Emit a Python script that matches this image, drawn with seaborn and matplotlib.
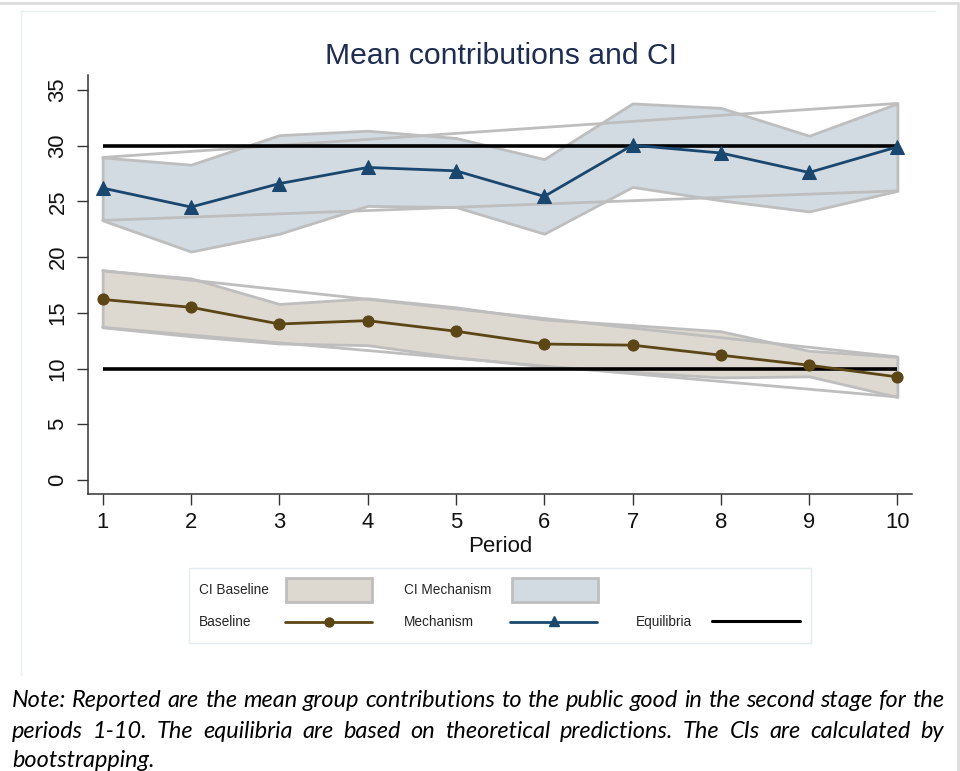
import numpy as np
import pandas as pd
import matplotlib
matplotlib.use("Agg")
import matplotlib.pyplot as plt
import seaborn as sns
from matplotlib.patches import Rectangle
from matplotlib.lines import Line2D

# ---------------- data ----------------
periods = [1, 2, 3, 4, 5, 6, 7, 8, 9, 10]
baseline_mean = [16.2, 15.5, 14.0, 14.3, 13.35, 12.2, 12.1, 11.2, 10.3, 9.25]
baseline_hi = [18.8, 18.1, 15.8, 16.3, 15.5, 14.4, 13.9, 13.35, 11.6, 11.05]
baseline_lo = [13.7, 12.9, 12.25, 12.1, 11.0, 10.2, 9.7, 9.2, 9.3, 7.45]
mechanism_mean = [26.2, 24.5, 26.6, 28.05, 27.75, 25.45, 30.05, 29.35, 27.6, 29.9]
mechanism_hi = [28.95, 28.3, 30.95, 31.35, 30.7, 28.8, 33.8, 33.4, 30.9, 33.8]
mechanism_lo = [23.3, 20.5, 22.1, 24.6, 24.5, 22.1, 26.3, 25.1, 24.1, 25.95]
equilibria = [10, 30]
y_ticks = [0, 5, 10, 15, 20, 25, 30, 35]

title = "Mean contributions and CI"
x_label = "Period"
legend_labels = ["CI Baseline", "CI Mechanism", "Baseline", "Mechanism", "Equilibria"]
note_lines = [
    "Note: Reported are the mean group contributions to the public good in the second stage for the",
    "periods 1-10. The equilibria are based on theoretical predictions. The CIs are calculated by",
    "bootstrapping.",
]

# ---------------- style ----------------
c_mech = "#1a476f"
c_base = "#5c4616"
f_mech = "#d2dae2"
f_base = "#ddd9d1"
c_edge = "#bebebe"
title_col = "#1e2d52"

sns.set_style("white")
plt.rcParams["font.family"] = ["Liberation Sans", "DejaVu Sans"]

W, H = 960, 771
fig = plt.figure(figsize=(W / 100, H / 100), dpi=100)


def fx(x):
    return x / W


def fy(y):
    return 1 - y / H


# frames: outer light-grey border (top & right), inner faint graph-region border
fig.add_artist(Line2D([fx(0), fx(958)], [fy(2.5), fy(2.5)], transform=fig.transFigure,
                      color="#dcdcdc", lw=2))
fig.add_artist(Line2D([fx(958), fx(958)], [fy(2.5), fy(771)], transform=fig.transFigure,
                      color="#dcdcdc", lw=2))
fig.add_artist(Line2D([fx(20.5), fx(20.5)], [fy(11), fy(675)], transform=fig.transFigure,
                      color="#e8f0f0", lw=1))
fig.add_artist(Line2D([fx(20.5), fx(935)], [fy(11), fy(11)], transform=fig.transFigure,
                      color="#e8f0f0", lw=1))

# ---------------- axes ----------------
ax = fig.add_axes([fx(88), fy(494), fx(912) - fx(88), fy(75) - fy(494)])
ax.set_xlim(0.834, 10.165)
ax.set_ylim(-1.26, 36.35)

x = np.array(periods)
for lo, hi, fc in [(mechanism_lo, mechanism_hi, f_mech), (baseline_lo, baseline_hi, f_base)]:
    ax.fill_between(x, lo, hi, facecolor=fc, edgecolor=c_edge, linewidth=2, zorder=1)
    ax.plot([x[0], x[-1]], [hi[0], hi[-1]], color=c_edge, lw=2, zorder=1.5)
    ax.plot([x[0], x[-1]], [lo[0], lo[-1]], color=c_edge, lw=2, zorder=1.5)

for e in equilibria:
    ax.plot([x[0], x[-1]], [e, e], color="black", lw=2.6, zorder=2, solid_capstyle="butt")

sns.lineplot(x=x, y=mechanism_mean, ax=ax, color=c_mech, lw=2, marker="^", markersize=9.5,
             markeredgecolor=c_mech, zorder=3)
sns.lineplot(x=x, y=baseline_mean, ax=ax, color=c_base, lw=2, marker="o", markersize=8,
             markeredgecolor=c_base, zorder=3)

for s in ["top", "right"]:
    ax.spines[s].set_visible(False)
for s in ["left", "bottom"]:
    ax.spines[s].set_color("#333333")
    ax.spines[s].set_linewidth(1.1)

ax.set_xticks(periods)
ax.set_xticklabels([str(p) for p in periods], fontsize=15.8)
ax.set_yticks(y_ticks)
ax.set_yticklabels([str(t) for t in y_ticks], fontsize=15.8, rotation=90, va="center")
ax.tick_params(axis="both", direction="out", length=8, width=1, color="#333333",
               colors="#111111", left=True, bottom=True)
ax.tick_params(axis="x", pad=5)
ax.tick_params(axis="y", pad=6)
ax.set_xlabel("")
ax.set_ylabel("")

fig.text(fx(501), fy(63.5), title, ha="center", va="baseline", fontsize=21.7, color=title_col)
fig.text(fx(500.5), fy(551.7), x_label, ha="center", va="baseline", fontsize=16, color="#111111")

# ---------------- legend (drawn manually, Stata-style) ----------------
fig.add_artist(Rectangle((fx(189), fy(643)), fx(811) - fx(189), fy(568) - fy(643),
                         transform=fig.transFigure, fill=False, edgecolor="#e3ecee", lw=1))
leg_fs = 9.8
row1, row2 = 590, 622
fig.text(fx(199), fy(row1), legend_labels[0], fontsize=leg_fs, va="center", ha="left")
fig.add_artist(Rectangle((fx(286), fy(602)), fx(372) - fx(286), fy(578) - fy(602),
                         transform=fig.transFigure, facecolor=f_base, edgecolor=c_edge, lw=2))
fig.text(fx(404), fy(row1), legend_labels[1], fontsize=leg_fs, va="center", ha="left")
fig.add_artist(Rectangle((fx(512), fy(602)), fx(598) - fx(512), fy(578) - fy(602),
                         transform=fig.transFigure, facecolor=f_mech, edgecolor=c_edge, lw=2))
fig.text(fx(199), fy(row2), legend_labels[2], fontsize=leg_fs, va="center", ha="left")
fig.add_artist(Line2D([fx(285), fx(372)], [fy(row2), fy(row2)], transform=fig.transFigure,
                      color=c_base, lw=2))
fig.add_artist(Line2D([fx(329)], [fy(row2)], transform=fig.transFigure, color=c_base,
                      marker="o", markersize=6.5, lw=0))
fig.text(fx(404), fy(row2), legend_labels[3], fontsize=leg_fs, va="center", ha="left")
fig.add_artist(Line2D([fx(510), fx(597)], [fy(row2), fy(row2)], transform=fig.transFigure,
                      color=c_mech, lw=2))
fig.add_artist(Line2D([fx(554)], [fy(row2 - 1)], transform=fig.transFigure, color=c_mech,
                      marker="^", markersize=7.5, lw=0))
fig.text(fx(636), fy(row2), legend_labels[4], fontsize=leg_fs, va="center", ha="left")
fig.add_artist(Line2D([fx(712), fx(800)], [fy(row2 - 1), fy(row2 - 1)], transform=fig.transFigure,
                      color="black", lw=2.2))

# ---------------- justified note ----------------
renderer = fig.canvas.get_renderer()
note_font = ["Lato", "DejaVu Sans"]
x0, x1 = 12, 944
probe = fig.text(0, 0, note_lines[0], fontsize=15, style="italic", family=note_font)
nat_w = probe.get_window_extent(renderer).width
probe.remove()
note_fs = 15 * 928 / nat_w
baselines = [707, 737.5, 767]
for i, line in enumerate(note_lines):
    words = line.split(" ")
    arts = [fig.text(0, fy(baselines[i]), w, fontsize=note_fs, style="italic",
                     family=note_font, va="baseline", ha="left", color="black") for w in words]
    widths = [a.get_window_extent(renderer).width for a in arts]
    justify = i < len(note_lines) - 1
    if justify and len(words) > 1:
        gap = (x1 - x0 - sum(widths)) / (len(words) - 1)
    else:
        sp = fig.text(0, 0, "a a", fontsize=note_fs, style="italic", family=note_font)
        sp2 = fig.text(0, 0, "aa", fontsize=note_fs, style="italic", family=note_font)
        gap = sp.get_window_extent(renderer).width - sp2.get_window_extent(renderer).width
        sp.remove()
        sp2.remove()
    cur = x0
    for a, wd in zip(arts, widths):
        a.set_x(fx(cur))
        cur += wd + gap

fig.savefig("out.png", dpi=100)
